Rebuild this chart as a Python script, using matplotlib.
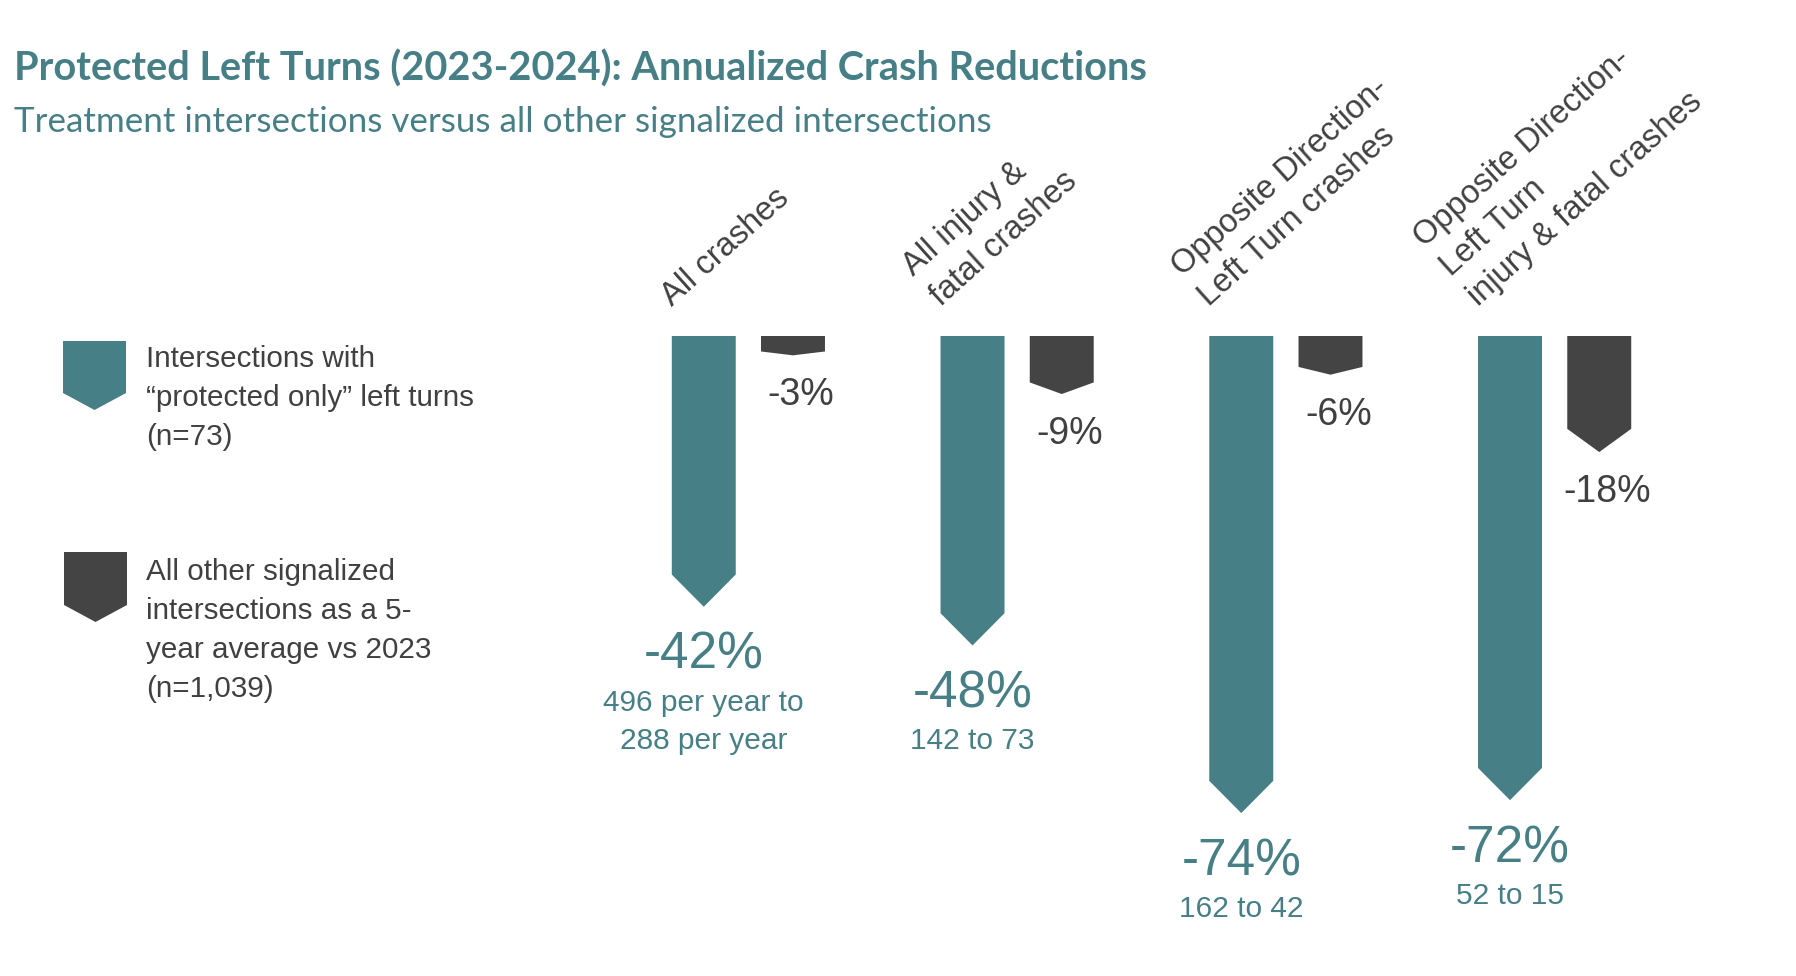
import matplotlib.pyplot as plt
from matplotlib.patches import Polygon
import numpy as np

# data
categories = ["All crashes",
              "All injury &\nfatal crashes",
              "Opposite Direction-\nLeft Turn crashes",
              "Opposite Direction-\nLeft Turn\ninjury & fatal crashes"]
protected = [-42, -48, -74, -72]
others = [-3, -9, -6, -18]
counts = ["496 per year to\n288 per year", "142 to 73", "162 to 42", "52 to 15"]
legend_labels = ["Intersections with\n\u201cprotected only\u201d left turns\n(n=73)",
                 "All other signalized\nintersections as a 5-\nyear average vs 2023\n(n=1,039)"]

TEAL = "#467f86"
GREY = "#444444"
TXT = "#404040"
BODY = ["Liberation Sans", "DejaVu Sans"]
HEAD = ["Lato", "DejaVu Sans"]
PT = 0.72  # points per pixel at dpi 100

fig = plt.figure(figsize=(17.96, 9.76), dpi=100)

# overlay in pixel coords for title and legend
ov = fig.add_axes([0, 0, 1, 1])
ov.set_xlim(0, 1796)
ov.set_ylim(976, 0)
ov.axis("off")

ov.text(14, 81, "Protected Left Turns (2023-2024): Annualized Crash Reductions",
        fontsize=28.6, fontweight="bold", color=TEAL, family=HEAD, va="baseline")
ov.text(14, 132, "Treatment intersections versus all other signalized intersections",
        fontsize=25.2, color=TEAL, family=HEAD, va="baseline")

def chevron_px(x0, x1, top, shoulder, tip, color):
    xm = (x0 + x1) / 2
    ov.add_patch(Polygon([(x0, top), (x1, top), (x1, shoulder), (xm, tip), (x0, shoulder)],
                         closed=True, facecolor=color, edgecolor="none"))

chevron_px(63, 126, 341, 393, 410, TEAL)
chevron_px(64, 127, 552, 605, 622, GREY)
for base, lab in zip([367, 580], legend_labels):
    for k, line in enumerate(lab.split("\n")):
        ov.text(146, base + 39 * k, line, fontsize=21.3, color=TXT, family=BODY, va="baseline")

# main bar axes
ax = fig.add_axes([614 / 1796, 92 / 976, 1075 / 1796, 548 / 976])
ax.set_xlim(-0.5, 3.5)
ax.set_ylim(-85, 0)
ax.axis("off")

x = np.arange(len(categories))
off = 0.166
w = 0.238

def chevron(xc, v, color):
    tip = min(0.2 * abs(v), 5)
    pts = [(xc - w / 2, 0), (xc + w / 2, 0), (xc + w / 2, v + tip), (xc, v), (xc - w / 2, v + tip)]
    ax.add_patch(Polygon(pts, closed=True, facecolor=color, edgecolor="none"))

ang = 42
s, c = np.sin(np.radians(ang)), np.cos(np.radians(ang))
for i in range(len(categories)):
    xt = x[i] - off
    xg = x[i] + off
    chevron(xt, protected[i], TEAL)
    chevron(xg, others[i], GREY)

    ax.annotate(f"{protected[i]}%", (xt, protected[i]), xytext=(0, -62 * PT),
                textcoords="offset points", ha="center", va="baseline",
                fontsize=37, color=TEAL, family=BODY, annotation_clip=False)
    for k, line in enumerate(counts[i].split("\n")):
        ax.annotate(line, (xt, protected[i]), xytext=(0, -(104 + 38 * k) * PT),
                    textcoords="offset points", ha="center", va="baseline",
                    fontsize=21.5, color=TEAL, family=BODY, annotation_clip=False)

    ax.annotate(f"{others[i]}%", (xg, others[i]), xytext=(8 * PT, -50 * PT),
                textcoords="offset points", ha="center", va="baseline",
                fontsize=27, color=TXT, family=BODY, annotation_clip=False)

    lines = categories[i].split("\n")
    n = len(lines)
    for j, line in enumerate(lines):
        k = n - 1 - j
        ax.annotate(line, (xt - w / 2, 4.5), xytext=(-k * 40 * s * PT, k * 40 * c * PT),
                    textcoords="offset points", ha="left", va="baseline",
                    rotation=ang, rotation_mode="anchor",
                    fontsize=23.5, color=TXT, family=BODY, annotation_clip=False)

fig.savefig("out.png", dpi=100)
